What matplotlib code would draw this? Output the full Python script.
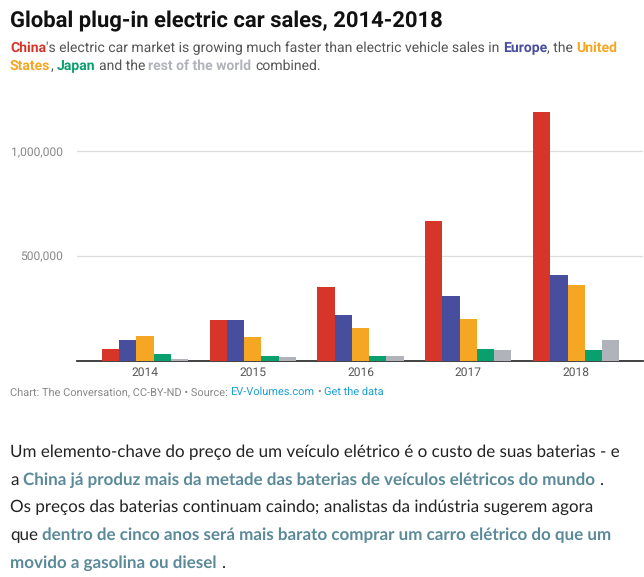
import matplotlib.pyplot as plt
import numpy as np
from matplotlib.ticker import FuncFormatter

plt.rcParams['text.hinting'] = 'none'
plt.rcParams['text.hinting_factor'] = 1

years = ['2014', '2015', '2016', '2017', '2018']
regions = ['China', 'Europe', 'United States', 'Japan', 'Rest of the world']
china = [59000, 194000, 351000, 668000, 1188000]
europe = [98000, 197000, 221000, 308000, 409000]
usa = [120000, 115000, 159000, 202000, 361000]
japan = [34000, 24000, 24000, 59000, 53000]
rest = [10000, 19000, 24000, 53000, 98000]
colors = ['#d7352a', '#474e9d', '#f5a623', '#0aa06e', '#b1b3ba']

W, H = 644, 577
fig = plt.figure(figsize=(W / 100, H / 100), dpi=100)
fig.patch.set_facecolor('white')

# axes placed in pixel coordinates of the reference
ax_left, ax_right, ax_bottom, ax_top = 77, 643, 361, 99
ax = fig.add_axes([ax_left / W, 1 - ax_bottom / H,
                   (ax_right - ax_left) / W, (ax_bottom - ax_top) / H])

x = np.arange(len(years))
bw = 0.16
for i, (vals, c) in enumerate(zip([china, europe, usa, japan, rest], colors)):
    ax.bar(x + (i - 2) * bw, vals, width=bw, color=c, zorder=3, clip_on=False)

ax.set_xlim(-0.63, 4.62)
ax.set_ylim(0, 1250000)
ax.set_yticks([500000, 1000000])
ax.yaxis.set_major_formatter(FuncFormatter(lambda v, p: f'{int(v):,}'))
ax.set_xticks(x)
ax.set_xticklabels(years)
ax.grid(axis='y', color='#dddddd', linewidth=0.9, zorder=0)
for s in ['top', 'right', 'left']:
    ax.spines[s].set_visible(False)
ax.spines['bottom'].set_color('#333333')
ax.spines['bottom'].set_linewidth(1.3)
ax.tick_params(axis='y', length=0, pad=10, labelsize=8.5, labelcolor='#888888')
ax.tick_params(axis='x', length=0, pad=4, labelsize=8.5, labelcolor='#555555')
for lab in ax.get_xticklabels() + ax.get_yticklabels():
    lab.set_fontfamily('Roboto')

renderer = fig.canvas.get_renderer()


def space_width(**kw):
    t1 = fig.text(0, 0, 'a a', **kw)
    t2 = fig.text(0, 0, 'aa', **kw)
    w = t1.get_window_extent(renderer).width - t2.get_window_extent(renderer).width
    t1.remove()
    t2.remove()
    return w


def draw_runs(x0, y0, runs, family, size):
    # place coloured text pieces one after another on a baseline
    xp = x0
    for s, color, weight in runs:
        kw = dict(fontfamily=family, fontsize=size, fontweight=weight)
        sp = space_width(**kw)
        core = s.strip(' ')
        xp += sp * (len(s) - len(s.lstrip(' ')))
        if core:
            t = fig.text(xp / W, 1 - y0 / H, core, color=color,
                         va='baseline', ha='left', **kw)
            xp += t.get_window_extent(renderer).width
            xp += sp * (len(s) - len(s.rstrip(' ')))


fig.text(10 / W, 1 - 27 / H, 'Global plug-in electric car sales, 2014-2018',
         fontfamily='Roboto', fontweight='bold', fontsize=15.8, color='#111111',
         va='baseline')

grey = '#555555'
ss = 9.9
draw_runs(10, 52, [('China', colors[0], 'bold'),
                   ("'s electric car market is growing much faster than electric vehicle sales in ", grey, 'normal'),
                   ('Europe', colors[1], 'bold'),
                   (', the ', grey, 'normal'),
                   ('United', colors[2], 'bold')], 'Roboto', ss)
draw_runs(10, 70, [('States', colors[2], 'bold'),
                   (', ', grey, 'normal'),
                   ('Japan', colors[3], 'bold'),
                   (' and the ', grey, 'normal'),
                   ('rest of the world', colors[4], 'bold'),
                   (' combined.', grey, 'normal')], 'Roboto', ss)

src_grey = '#888888'
src_blue = '#1a9fd4'
draw_runs(10, 395, [('Chart: The Conversation, CC-BY-ND \u2022 Source: ', src_grey, 'normal'),
                    ('EV-Volumes.com', src_blue, 'normal'),
                    (' \u2022 ', src_grey, 'normal'),
                    ('Get the data', src_blue, 'normal')], 'Roboto', 7.9)

dark = '#222222'
link = '#5a8a99'
ps = 12.5
draw_runs(10, 457, [('Um elemento-chave do preço de um veículo elétrico é o custo de suas baterias - e', dark, 'normal')], 'Lato', ps)
draw_runs(10, 485, [('a ', dark, 'normal'),
                    ('China já produz mais da metade das baterias de veículos elétricos do mundo', link, 'bold'),
                    (' .', dark, 'normal')], 'Lato', ps)
draw_runs(10, 512, [('Os preços das baterias continuam caindo; analistas da indústria sugerem agora', dark, 'normal')], 'Lato', ps)
draw_runs(10, 540, [('que ', dark, 'normal'),
                    ('dentro de cinco anos será mais barato comprar um carro elétrico do que um', link, 'bold')], 'Lato', ps)
draw_runs(10, 568, [('movido a gasolina ou diesel', link, 'bold'),
                    (' .', dark, 'normal')], 'Lato', ps)

fig.savefig('out.png', dpi=100)
